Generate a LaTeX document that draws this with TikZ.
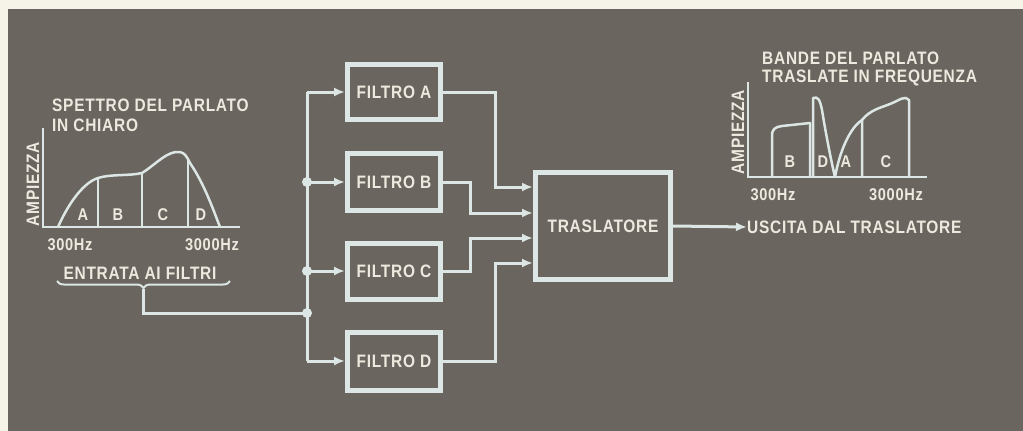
\documentclass[tikz,border=0pt]{standalone}
\usepackage{fontspec}
\setmainfont{Liberation Sans}
\newfontfamily\condfont[FakeStretch=0.86,LetterSpace=4]{Liberation Sans}
\usetikzlibrary{arrows.meta,decorations.pathreplacing}
\definecolor{bg}{RGB}{106,101,94}
\definecolor{paper}{RGB}{246,244,232}
\definecolor{ink}{RGB}{236,234,222}
\definecolor{wire}{RGB}{220,231,229}
\begin{document}
\begin{tikzpicture}[x=1pt,y=-1pt,
  lbl/.style={text=ink,font=\condfont\bfseries\fontsize{18}{18}\selectfont,inner sep=0pt},
  small/.style={text=ink,font=\condfont\bfseries\fontsize{17}{17}\selectfont,inner sep=0pt},
  box/.style={draw=wire,line width=5pt,inner sep=0pt},
  conn/.style={draw=wire,line width=3pt},
  arr/.style={conn,-{Latex[length=11pt,width=9pt]}},
  thin/.style={draw=wire,line width=2pt},
  curve/.style={draw=wire,line width=2.5pt,line join=round},
  jdot/.style={fill=wire,draw=none}]
\useasboundingbox (0,0) rectangle (1023,431);
\fill[paper] (0,0) rectangle (1023,431);
\fill[bg] (8,9) rectangle (1023,431);

% filters
\node[box,lbl,minimum width=93pt,minimum height=55pt] (fA) at (394,92) {FILTRO A};
\node[box,lbl,minimum width=93pt,minimum height=57pt] (fB) at (394,182) {FILTRO B};
\node[box,lbl,minimum width=93pt,minimum height=56pt] (fC) at (394,271) {FILTRO C};
\node[box,lbl,minimum width=93pt,minimum height=58pt] (fD) at (394,361) {FILTRO D};
\node[box,lbl,minimum width=135pt,minimum height=107pt] (tr) at (603,226) {TRASLATORE};

% bus
\coordinate (busA) at (307,92);
\coordinate (busB) at (307,182);
\coordinate (busC) at (307,271);
\coordinate (busIn) at (307,313);
\coordinate (busD) at (307,361);
\draw[conn] (busA) -- (busD);
\draw[arr] (busA) -- (fA.west);
\draw[arr] (busB) -- (fB.west);
\draw[arr] (busC) -- (fC.west);
\draw[arr] (busD) -- (fD.west);
\fill[jdot] (busB) circle (5);
\fill[jdot] (busC) circle (5);
\fill[jdot] (busIn) circle (5);

% input
\node[lbl] (entr) at (140,273) {ENTRATA AI FILTRI};
\draw[thin,decorate,decoration={brace,mirror,amplitude=7pt}] (57,281) -- (230,281);
\coordinate (btip) at (143,289);
\draw[conn] (btip) |- (busIn);

% outputs to traslatore
\draw[arr] (fA.east) -| (495,187) -- (tr.west |- 0,187);
\draw[arr] (fB.east) -| (470,213) -- (tr.west |- 0,213);
\draw[arr] (fC.east) -| (470,238) -- (tr.west |- 0,238);
\draw[arr] (fD.east) -| (495,263) -- (tr.west |- 0,263);

% output
\node[lbl,anchor=west] (usc) at (747,227) {USCITA DAL TRASLATORE};
\draw[arr] (tr.east) -- (usc.west);

% left spectrum
\node[lbl,anchor=west] (sp1) at (52,105) {SPETTRO DEL PARLATO};
\node[lbl,anchor=west] (sp2) at (52,125) {IN CHIARO};
\node[lbl,rotate=90] (amp1) at (33,184) {AMPIEZZA};
\draw[thin] (43,128) -- (43,227) -- (240,227);
\draw[curve] (58,227) .. controls (70,200) and (85,182) .. (98,178)
  .. controls (110,174) and (130,176) .. (142,173)
  .. controls (155,165) and (168,150) .. (180,152)
  .. controls (185,153) and (187,157) .. (190,163)
  .. controls (205,185) and (214,212) .. (220,227);
\draw[thin] (98,178) -- (98,227);
\draw[thin] (142,173) -- (142,227);
\draw[thin] (188,160) -- (188,227);
\node[small] (la) at (83,215) {A};
\node[small] (lb) at (118,215) {B};
\node[small] (lc) at (163,215) {C};
\node[small] (ld) at (201,215) {D};
\node[small] (f1) at (70,245) {300Hz};
\node[small] (f2) at (212,245) {3000Hz};

% right spectrum
\node[lbl,anchor=west] (bd1) at (762,58) {BANDE DEL PARLATO};
\node[lbl,anchor=west] (bd2) at (762,78) {TRASLATE IN FREQUENZA};
\node[lbl,rotate=90] (amp2) at (738,132) {AMPIEZZA};
\draw[thin] (748,82) -- (748,177) -- (927,177);
\draw[curve] (772,177) -- (772,136) .. controls (772,129) and (775,127) .. (782,126) -- (810,123) -- (810,177);
\draw[curve] (813,177) -- (813,98) .. controls (818,96) and (820,100) .. (822,110)
  .. controls (826,135) and (832,165) .. (835,177);
\draw[curve] (835,177) .. controls (840,150) and (850,128) .. (862,120) -- (862,177);
\draw[curve] (862,120) .. controls (870,110) and (880,108) .. (890,104)
  .. controls (900,100) and (905,95) .. (909,100) -- (909,177);
\node[small] (rb) at (790,162) {B};
\node[small] (rd) at (823,162) {D};
\node[small] (ra) at (846,162) {A};
\node[small] (rc) at (886,162) {C};
\node[small] (f3) at (773,195) {300Hz};
\node[small] (f4) at (896,195) {3000Hz};
\end{tikzpicture}
\end{document}
